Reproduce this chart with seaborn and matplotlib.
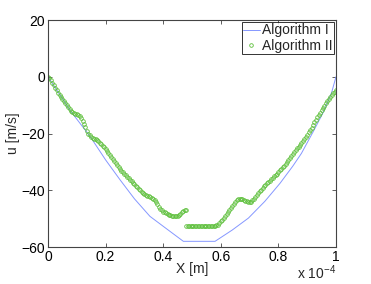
import numpy as np
import matplotlib
matplotlib.use("Agg")
import matplotlib.pyplot as plt
import seaborn as sns
from matplotlib.ticker import FuncFormatter

# ------------------------------------------------------------
# data (x in units of 1e-4 m, u in m/s)
# ------------------------------------------------------------
SCALE = 1e-4

# Algorithm I : thin line
alg1_x = [0.00, 0.08, 0.146, 0.20, 0.25, 0.30, 0.354, 0.40, 0.47, 0.58,
          0.64, 0.696, 0.753, 0.806, 0.85, 0.88, 0.92, 0.956, 0.985, 1.00]
alg1_u = [0.0, -12.3, -21.0, -29.3, -36.3, -43.0, -49.2, -52.7, -58.0, -58.0,
          -54.0, -49.8, -43.9, -37.5, -31.5, -27.0, -19.5, -12.5, -5.5, 0.0]

# Algorithm II : circles, two pieces with a jump near x = 0.48
alg2a_x = np.linspace(0.0, 0.48, 97)
alg2a_u = [0.0, -0.5, -1.2, -2.1, -3.0, -3.9, -4.8, -5.6, -6.4, -7.1,
           -7.8, -8.5, -9.2, -9.9, -10.6, -11.3, -12.0, -12.5, -12.9, -13.1,
           -13.3, -13.6, -14.0, -14.6, -15.5, -16.6, -17.8, -19.0, -20.0, -20.7,
           -21.2, -21.5, -21.8, -22.0, -22.3, -22.7, -23.2, -23.7, -24.3, -24.9,
           -25.6, -26.3, -27.0, -27.7, -28.4, -29.1, -29.8, -30.5, -31.2, -31.9,
           -32.5, -33.1, -33.6, -34.1, -34.6, -35.2, -35.7, -36.3, -36.8, -37.3,
           -37.8, -38.4, -38.9, -39.5, -40.0, -40.5, -41.0, -41.4, -41.8, -42.0,
           -42.2, -42.4, -42.6, -43.0, -43.5, -44.2, -45.0, -45.8, -46.6, -47.1,
           -47.5, -47.8, -48.1, -48.4, -48.6, -48.8, -49.0, -49.1, -49.2, -49.1,
           -48.9, -48.6, -48.2, -47.8, -47.4, -47.1, -46.9]

alg2b_x = np.linspace(0.48, 1.0, 105)
alg2b_u = [-52.6] * 21 + [
           -52.4, -52.2, -51.6, -51.0, -50.4, -49.8, -49.2, -48.5, -47.8, -47.0,
           -46.2, -45.4, -44.7, -44.0, -43.5, -43.2, -43.0, -43.0, -43.2, -43.4,
           -43.7, -43.9, -44.1, -44.3, -44.0, -43.6, -43.0, -42.4, -41.7, -41.1,
           -40.4, -39.8, -39.2, -38.6, -38.1, -37.6, -37.1, -36.6, -36.1, -35.7,
           -35.1, -34.6, -34.1, -33.6, -33.0, -32.5, -31.9, -31.3, -30.6, -30.0,
           -29.3, -28.6, -27.9, -27.2, -26.5, -25.9, -25.2, -24.6, -23.9, -23.3,
           -22.6, -21.9, -21.1, -20.4, -19.6, -18.8, -17.9, -17.0, -16.1, -15.2,
           -14.3, -13.4, -12.6, -11.8, -11.0, -10.2, -9.4, -8.6, -7.8, -7.1,
           -6.4, -5.8, -5.2, -4.6]

XTICKS = [0, 0.2, 0.4, 0.6, 0.8, 1.0]
YTICKS = [-60, -40, -20, 0, 20]

BLUE = "#8597ff"
GREEN = "#5cbf3a"
FS = 10

# ------------------------------------------------------------
sns.set_theme(style="white")
plt.rcParams["font.family"] = ["Liberation Sans", "DejaVu Sans"]
plt.rcParams["font.size"] = FS
plt.rcParams["mathtext.fontset"] = "custom"
plt.rcParams["mathtext.rm"] = "Liberation Sans"
plt.rcParams["mathtext.it"] = "Liberation Sans"

fig = plt.figure(figsize=(3.71, 2.84), dpi=100)
ax = fig.add_axes([48 / 371, 1 - 247 / 284, 288 / 371, 227 / 284])

sns.lineplot(x=np.array(alg1_x) * SCALE, y=alg1_u, ax=ax, color=BLUE,
             linewidth=0.7, label="Algorithm I", sort=False)
mk = dict(linestyle="", marker="o", markersize=2.6, markerfacecolor="none",
          markeredgecolor=GREEN, markeredgewidth=0.6, color=GREEN, sort=False)
sns.lineplot(x=alg2a_x * SCALE, y=alg2a_u, ax=ax, label="Algorithm II", **mk)
sns.lineplot(x=alg2b_x * SCALE, y=alg2b_u, ax=ax, **mk)

ax.set_xlim(0, 1.0 * SCALE)
ax.set_ylim(-60, 20)
ax.set_xticks([t * SCALE for t in XTICKS])
ax.set_yticks(YTICKS)
ax.xaxis.set_major_formatter(FuncFormatter(lambda v, p: f"{v / SCALE:g}"))
ax.yaxis.set_major_formatter(FuncFormatter(lambda v, p: f"{v:g}".replace("-", "\u2212")))

ax.tick_params(direction="in", length=3, width=0.6, colors="#444444",
               labelcolor="black", labelsize=FS, top=True, right=True,
               bottom=True, left=True, pad=2)
for s in ax.spines.values():
    s.set_color("#444444")
    s.set_linewidth(0.8)

ax.set_xlabel("X [m]", fontsize=FS, labelpad=-1)
ax.set_ylabel("u [m/s]", fontsize=FS, labelpad=1)
# exponent note in the MATLAB style, just below the right end of the x axis
ax.text(1.0, -0.143, "x 10$^{-4}$", transform=ax.transAxes, ha="right",
        va="baseline", fontsize=FS)

leg = ax.legend(loc="upper right", fontsize=FS, frameon=True, fancybox=False,
                borderpad=0.1, borderaxespad=0.15, handlelength=1.2,
                handletextpad=0.15, labelspacing=0.1, numpoints=1)
leg.get_frame().set_edgecolor("black")
leg.get_frame().set_linewidth(0.7)

fig.savefig("out.png", dpi=100, facecolor="white")
